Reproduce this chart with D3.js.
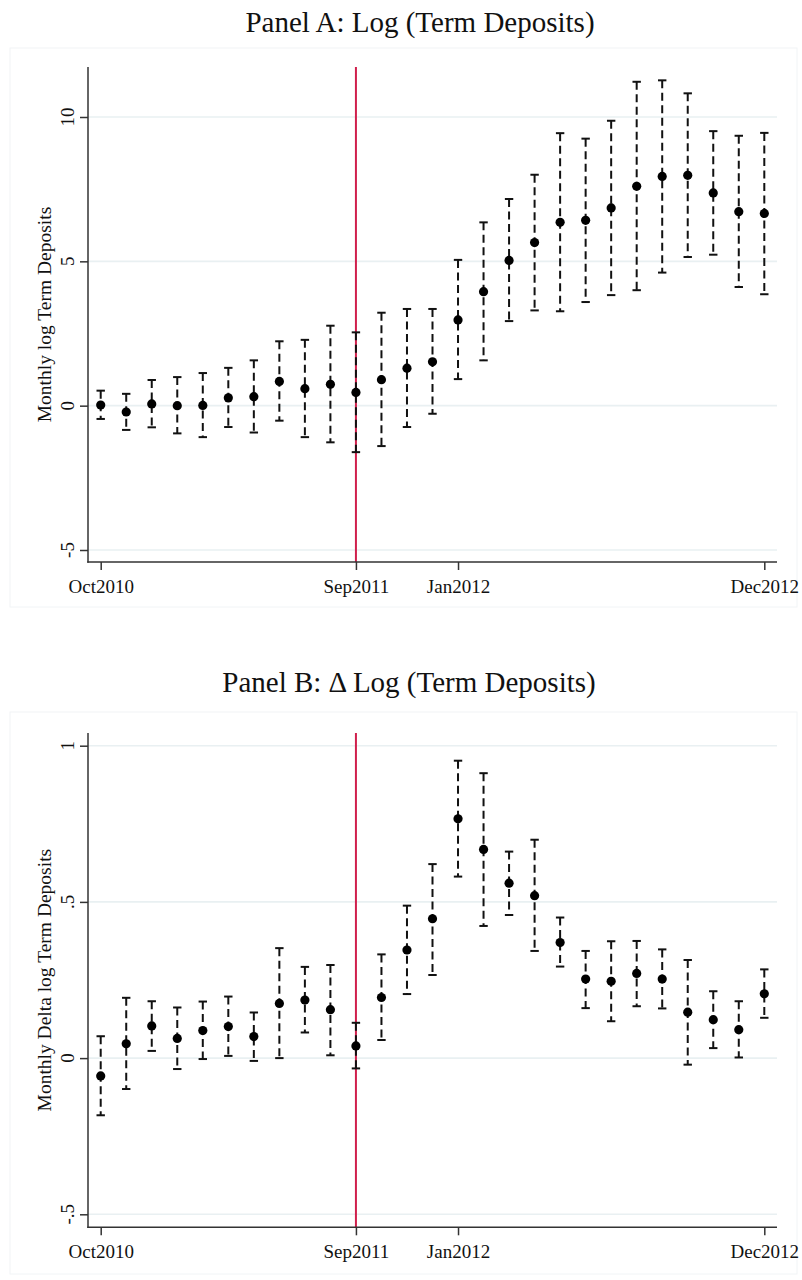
<!DOCTYPE html>
<html>
<head>
<meta charset="utf-8">
<script src="https://cdn.jsdelivr.net/npm/d3@7"></script>
<style>
html,body{margin:0;padding:0;background:#fff;}
svg{display:block;}
text{font-family:"Liberation Serif","Times New Roman",serif;fill:#111;}
</style>
</head>
<body>
<svg id="chart" width="802" height="1280"></svg>
<script>
// month index 0..26 ; tick labels at selected indices
const tickIdx = [0, 10, 14, 26];
const tickLabels = ["Oct2010", "Sep2011", "Jan2012", "Dec2012"];
const eventIdx = 10;

// Panel A: log term deposits
const aEst = [0.02,-0.22,0.06,0.00,0.01,0.27,0.31,0.84,0.59,0.74,0.46,0.90,1.30,1.52,2.97,3.95,5.03,5.65,6.35,6.42,6.85,7.60,7.94,7.98,7.37,6.72,6.66];
const aHi  = [0.52,0.41,0.89,0.99,1.13,1.31,1.57,2.23,2.28,2.77,2.54,3.22,3.35,3.35,5.05,6.35,7.16,8.00,9.44,9.25,9.87,11.22,11.27,10.82,9.51,9.35,9.45];
const aLo  = [-0.46,-0.84,-0.75,-0.96,-1.09,-0.74,-0.93,-0.52,-1.09,-1.27,-1.61,-1.40,-0.74,-0.28,0.92,1.57,2.93,3.30,3.27,3.59,3.83,4.00,4.61,5.15,5.23,4.11,3.86];
const aTicks = [-5, 0, 5, 10];
const aTickLabels = ["-5", "0", "5", "10"];

// Panel B: delta log term deposits
const bEst = [-0.057,0.046,0.103,0.063,0.088,0.101,0.069,0.175,0.186,0.155,0.039,0.194,0.346,0.446,0.766,0.668,0.560,0.520,0.370,0.253,0.246,0.271,0.253,0.147,0.123,0.091,0.206];
const bHi  = [0.070,0.193,0.182,0.162,0.181,0.197,0.146,0.352,0.292,0.298,0.113,0.332,0.488,0.621,0.952,0.912,0.661,0.699,0.450,0.343,0.374,0.375,0.348,0.314,0.214,0.182,0.284];
const bLo  = [-0.183,-0.099,0.023,-0.035,-0.003,0.007,-0.009,0.000,0.082,0.009,-0.033,0.058,0.205,0.266,0.581,0.423,0.458,0.343,0.293,0.160,0.118,0.166,0.159,-0.021,0.032,0.002,0.129];
const bTicks = [-0.5, 0, 0.5, 1];
const bTickLabels = ["-.5", "0", ".5", "1"];

const svg = d3.select("#chart");

function panel(cfg) {
  const g = svg.append("g");
  const x = d3.scaleLinear().domain([0, 26]).range([100.7, 764.3]);
  const y = d3.scaleLinear().domain(cfg.domain).range(cfg.range);
  const axisX = 88, right = 777;

  // faint graph region outline
  g.append("rect").attr("x", 10).attr("y", cfg.regionTop).attr("width", 787).attr("height", cfg.regionBottom - cfg.regionTop)
    .attr("fill", "none").attr("stroke", "#f1f4f6").attr("stroke-width", 1);

  // title
  g.append("text").attr("x", cfg.titleX).attr("y", cfg.titleY).attr("text-anchor", "middle")
    .attr("font-size", 29).text(cfg.title);

  // gridlines
  g.selectAll(".grid").data(cfg.ticks).enter().append("line")
    .attr("x1", axisX).attr("x2", right)
    .attr("y1", d => y(d)).attr("y2", d => y(d))
    .attr("stroke", "#e9f0f2").attr("stroke-width", 1.6);

  // event line
  g.append("line").attr("x1", x(eventIdx)).attr("x2", x(eventIdx))
    .attr("y1", cfg.axisTop).attr("y2", cfg.axisBottom)
    .attr("stroke", "#d01f4c").attr("stroke-width", 2);

  // y axis via d3
  const yAxis = d3.axisLeft(y).tickValues(cfg.ticks).tickSize(8)
    .tickFormat((d, i) => cfg.tickLabels[i]);
  const ya = g.append("g").attr("transform", `translate(${axisX},0)`).call(yAxis);
  ya.select(".domain").remove();
  ya.selectAll(".tick line").attr("stroke", "#333").attr("stroke-width", 1.5);
  ya.selectAll(".tick text").remove();
  g.append("line").attr("x1", axisX).attr("x2", axisX).attr("y1", cfg.axisTop).attr("y2", cfg.axisBottom + 0.75)
    .attr("stroke", "#333").attr("stroke-width", 1.5);
  g.selectAll(".ytl").data(cfg.ticks).enter().append("text")
    .attr("transform", d => `translate(74,${y(d)}) rotate(-90)`)
    .attr("text-anchor", "middle").attr("font-size", 19)
    .text((d, i) => cfg.tickLabels[i]);

  // y label
  g.append("text").attr("transform", `translate(51,${(cfg.axisTop + cfg.axisBottom) / 2}) rotate(-90)`)
    .attr("text-anchor", "middle").attr("font-size", 19.5).text(cfg.ylabel);

  // x axis via d3
  const xAxis = d3.axisBottom(x).tickValues(tickIdx).tickSize(8)
    .tickFormat((d, i) => tickLabels[i]);
  const xa = g.append("g").attr("transform", `translate(0,${cfg.axisBottom})`).call(xAxis);
  xa.select(".domain").remove();
  xa.selectAll(".tick line").attr("stroke", "#333").attr("stroke-width", 1.5);
  xa.selectAll(".tick text").attr("font-size", 19).attr("font-family", "Liberation Serif, Times New Roman, serif")
    .attr("fill", "#111").attr("y", 0).attr("dy", 0)
    .attr("transform", "translate(0,31)");
  g.append("line").attr("x1", axisX - 0.75).attr("x2", right).attr("y1", cfg.axisBottom).attr("y2", cfg.axisBottom)
    .attr("stroke", "#333").attr("stroke-width", 1.5);

  const idx = d3.range(cfg.est.length);
  // error bars (dashed)
  g.selectAll(".eb").data(idx).enter().append("line")
    .attr("x1", i => x(i)).attr("x2", i => x(i))
    .attr("y1", i => y(cfg.hi[i])).attr("y2", i => y(cfg.lo[i]))
    .attr("stroke", "#111").attr("stroke-width", 2).attr("stroke-dasharray", "8,4.5");
  // caps
  ["hi", "lo"].forEach(k => {
    g.selectAll(".cap" + k).data(idx).enter().append("line")
      .attr("x1", i => x(i) - 4.2).attr("x2", i => x(i) + 4.2)
      .attr("y1", i => y(cfg[k][i])).attr("y2", i => y(cfg[k][i]))
      .attr("stroke", "#111").attr("stroke-width", 2);
  });
  // points
  g.selectAll(".pt").data(idx).enter().append("circle")
    .attr("cx", i => x(i)).attr("cy", i => y(cfg.est[i])).attr("r", 4.6)
    .attr("fill", "#000");
}

panel({
  title: "Panel A: Log (Term Deposits)", titleX: 420, titleY: 32,
  domain: [-5, 10], range: [550, 117], axisTop: 67, axisBottom: 562,
  regionTop: 48, regionBottom: 607,
  ticks: aTicks, tickLabels: aTickLabels,
  ylabel: "Monthly log Term Deposits",
  est: aEst, hi: aHi, lo: aLo
});

panel({
  title: "Panel B: \u0394 Log (Term Deposits)", titleX: 409, titleY: 692,
  domain: [-0.5, 1], range: [1214.3, 745.7], axisTop: 733, axisBottom: 1227.3,
  regionTop: 712, regionBottom: 1274,
  ticks: bTicks, tickLabels: bTickLabels,
  ylabel: "Monthly Delta log Term Deposits",
  est: bEst, hi: bHi, lo: bLo
});
</script>
</body>
</html>
